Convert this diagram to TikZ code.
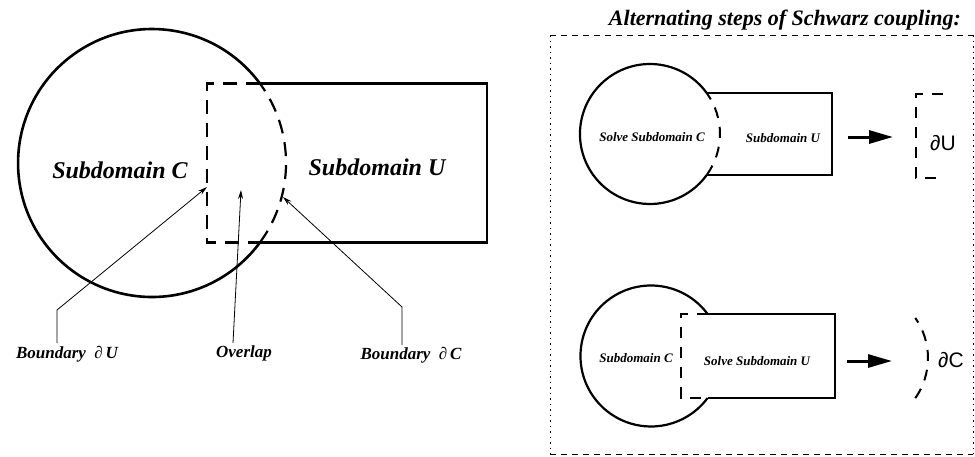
\documentclass[tikz,border=0pt]{standalone}
\usepackage{fontspec}
\setmainfont{Liberation Serif}
\newfontfamily\symfont{Liberation Sans}
\usetikzlibrary{arrows.meta}
\begin{document}
\begin{tikzpicture}[x=1pt,y=1pt,
  bigcirc/.style={line width=2.6pt},
  domrect/.style={line width=2.2pt},
  dashbound/.style={line width=2.2pt, dash pattern=on 14pt off 9pt},
  medcirc/.style={line width=2.2pt},
  medrect/.style={line width=2pt},
  smalldash/.style={line width=2pt, dash pattern=on 11pt off 9pt},
  leader/.style={line width=0.8pt, -{Stealth[length=9pt,width=5pt]}},
  fatarrow/.style={line width=3pt, -{Triangle[length=24pt,width=13pt]}},
  paneldash/.style={line width=0.8pt, dash pattern=on 6pt off 5pt},
  paneldot/.style={line width=0.8pt, dash pattern=on 1.5pt off 4pt},
  bigtext/.style={font=\fontsize{24}{28}\selectfont\bfseries\itshape},
  titletext/.style={font=\fontsize{22}{26}\selectfont\bfseries\itshape},
  labeltext/.style={font=\fontsize{17}{20}\selectfont\bfseries\itshape},
  smalltext/.style={font=\fontsize{13}{15}\selectfont\bfseries\itshape},
  bndtext/.style={font=\fontsize{21}{24}\selectfont\symfont}
]
\useasboundingbox (0,0) rectangle (975,-456);

% ---------- left diagram ----------
\coordinate (c1) at (152,-163);
\coordinate (c1t) at (259.9,-83.5);
\coordinate (c1b) at (259.9,-242.5);
\draw[bigcirc] (c1t) arc[start angle=36.4,end angle=323.6,radius=134];
\draw[dashbound] (c1b) arc[start angle=-36.4,end angle=36.4,radius=134];
\draw[domrect] (c1t) -- (487,-83.5) -- (487,-242.5) -- (c1b);
\draw[dashbound] (c1t) -- (207,-83.5) -- (207,-242.5) -- (c1b);

\node[bigtext] (subC) at (120,-170) {Subdomain C};
\node[bigtext] (subU) at (377,-167) {Subdomain U};

\node[labeltext] (lblU) at (67,-354) {Boundary\hspace{0.5em}{\mdseries\upshape ∂}\,U};
\node[labeltext] (lblO) at (244,-353) {Overlap};
\node[labeltext] (lblC) at (411,-355) {Boundary\hspace{0.5em}{\mdseries\upshape ∂}\,C};

\coordinate (tipU) at (207,-187);
\coordinate (kneeU) at (57,-310);
\coordinate (footU) at (57,-343);
\coordinate (tipO) at (241,-190);
\coordinate (footO) at (233,-343);
\coordinate (tipC) at (283,-197);
\coordinate (kneeC) at (402,-307);
\coordinate (footC) at (402,-345);
\draw[leader] (footU) -- (kneeU) -- (tipU);
\draw[leader] (footO) -- (tipO);
\draw[leader] (footC) -- (kneeC) -- (tipC);

% ---------- right panel ----------
\node[titletext] (title) at (785,-20) {Alternating steps of Schwarz coupling:};
\coordinate (p1) at (550,-35);
\coordinate (p2) at (973,-35);
\coordinate (p3) at (973,-454);
\coordinate (p4) at (550,-454);
\draw[paneldash] (p1) -- (p2);
\draw[paneldash] (p4) -- (p3);
\draw[paneldot] (p1) -- (p4);
\draw[paneldot] (p2) -- (p3);

% top step
\coordinate (c2) at (650,-134);
\coordinate (c2t) at (706.7,-93);
\coordinate (c2b) at (706.7,-175);
\draw[medcirc] (c2t) arc[start angle=35.85,end angle=324.15,radius=70];
\draw[smalldash] (c2b) arc[start angle=-35.85,end angle=35.85,radius=70];
\draw[medrect] (c2t) -- (832,-93) -- (832,-175) -- (c2b);
\node[smalltext] (solveC) at (652,-137) {Solve Subdomain C};
\node[smalltext] (subU2) at (783,-138) {Subdomain U};
\coordinate (a1s) at (848,-137);
\coordinate (a1e) at (893,-137);
\draw[fatarrow] (a1s) -- (a1e);
\draw[smalldash] (943,-94) -- (916,-94) -- (916,-178) -- (943,-178);
\node[bndtext] (dU) at (943,-143) {∂U};

% bottom step
\coordinate (c3) at (651,-356);
\coordinate (c3t) at (707.6,-314);
\coordinate (c3b) at (707.6,-398);
\draw[medcirc] (c3t) arc[start angle=36.56,end angle=323.44,radius=70.5];
\draw[medrect] (c3t) -- (835,-314) -- (835,-398) -- (c3b);
\draw[smalldash] (c3t) -- (681,-314) -- (681,-398) -- (c3b);
\node[smalltext] (subC3) at (636,-358) {Subdomain C};
\node[smalltext] (solveU) at (757,-361) {Solve Subdomain U};
\coordinate (a2s) at (847,-361);
\coordinate (a2e) at (892,-361);
\draw[fatarrow] (a2s) -- (a2e);
\coordinate (c4) at (858,-358);
\coordinate (c4s) at (915.3,-398.2);
\draw[smalldash] (c4s) arc[start angle=-35,end angle=35,radius=70];
\node[bndtext] (dC) at (951,-360) {∂C};
\end{tikzpicture}
\end{document}
